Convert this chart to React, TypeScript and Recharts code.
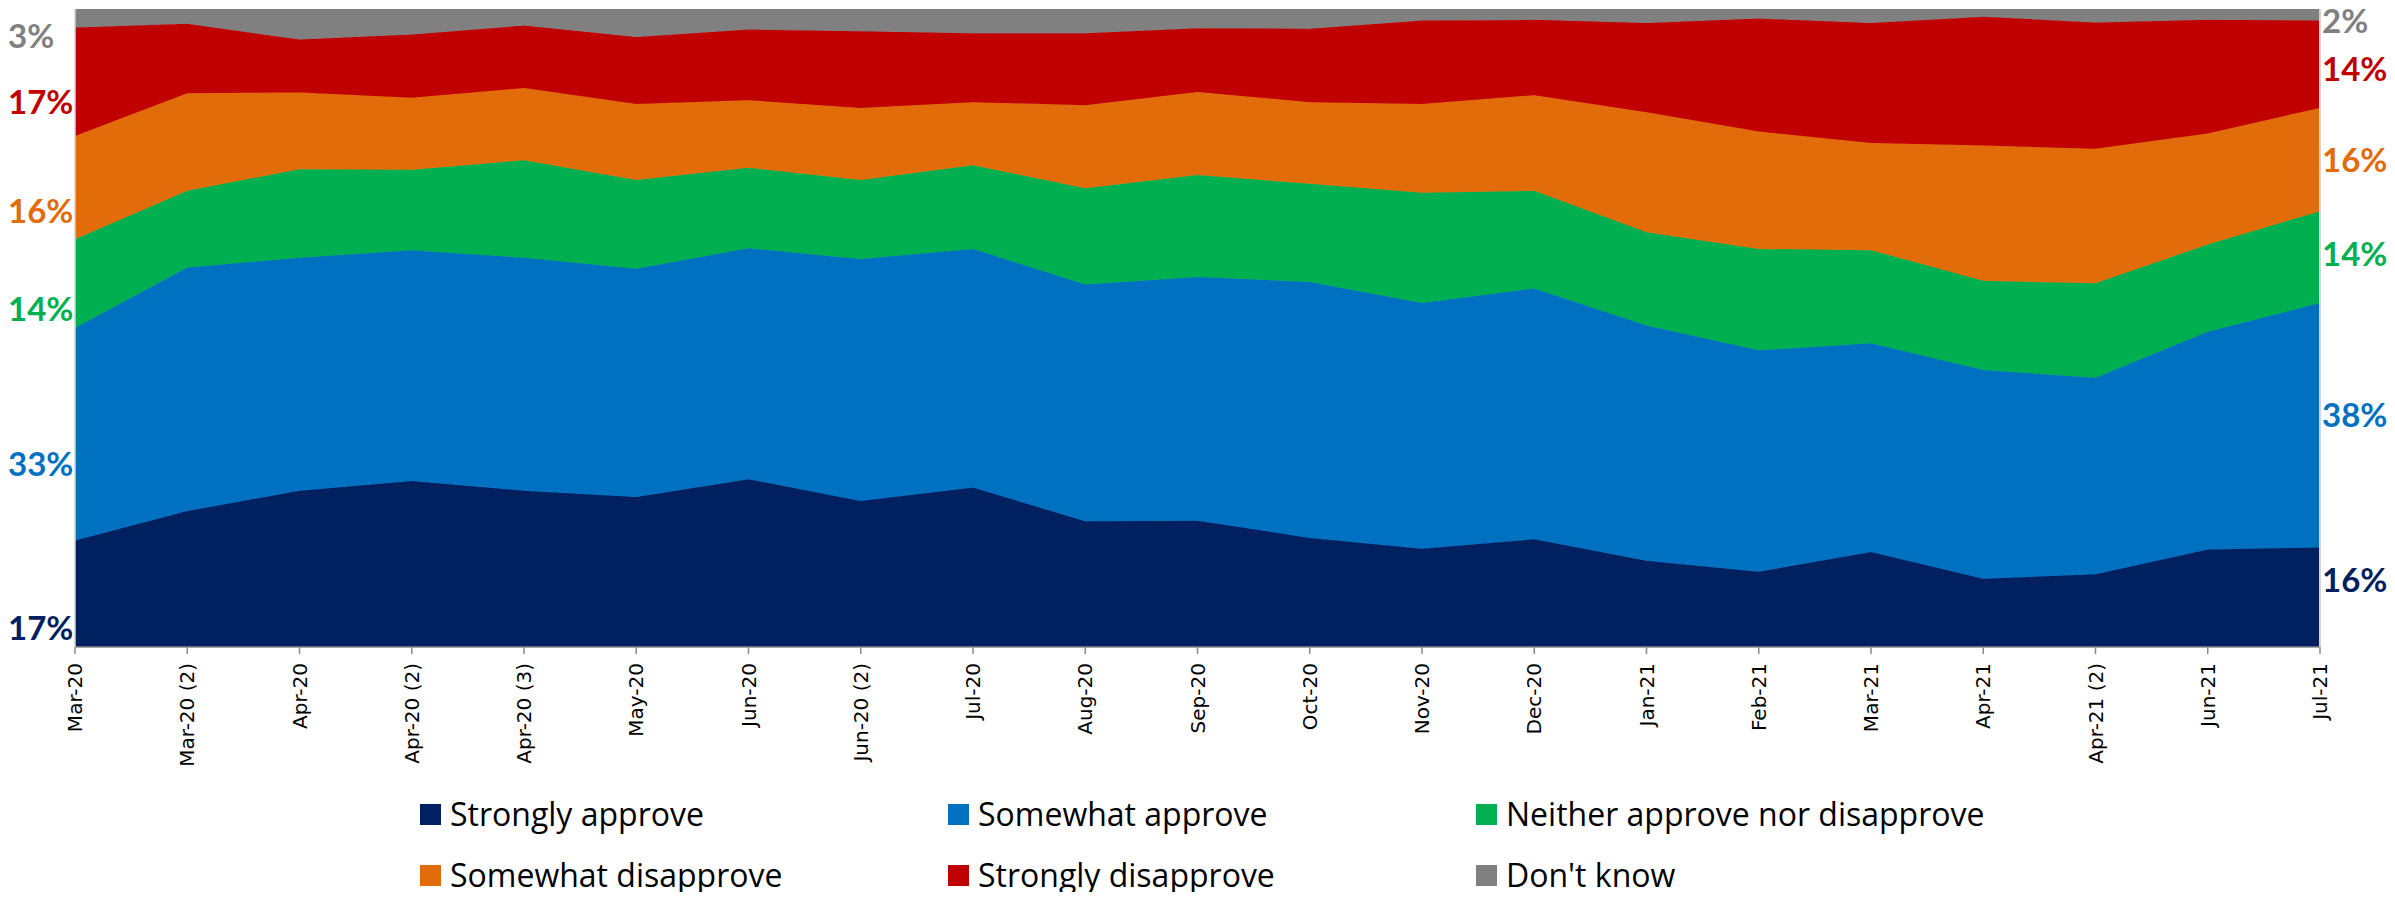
import React from "react";
import { AreaChart, Area, XAxis, YAxis, Legend } from "recharts";

const categories = [
  "Mar-20", "Mar-20 (2)", "Apr-20", "Apr-20 (2)", "Apr-20 (3)", "May-20", "Jun-20",
  "Jun-20 (2)", "Jul-20", "Aug-20", "Sep-20", "Oct-20", "Nov-20", "Dec-20",
  "Jan-21", "Feb-21", "Mar-21", "Apr-21", "Apr-21 (2)", "Jun-21", "Jul-21",
];

const stronglyApprove = [16.7, 21.3, 24.5, 26.0, 24.5, 23.5, 26.3, 22.9, 25.0, 19.7, 19.8, 17.1, 15.4, 16.9, 13.5, 11.8, 14.9, 10.7, 11.4, 15.3, 15.6];
const somewhatApprove = [33.3, 38.2, 36.5, 36.2, 36.5, 35.8, 36.2, 37.9, 37.4, 37.1, 38.2, 40.1, 38.5, 39.3, 36.9, 34.7, 32.7, 32.7, 30.8, 34.1, 38.3];
const neither = [13.9, 12.0, 13.9, 12.6, 15.3, 13.9, 12.6, 12.4, 13.1, 15.1, 16.0, 15.4, 17.3, 15.3, 14.6, 15.9, 14.6, 14.0, 14.8, 13.7, 14.4];
const somewhatDisapprove = [16.2, 15.3, 12.0, 11.3, 11.3, 11.9, 10.6, 11.3, 9.9, 13.0, 13.0, 12.8, 13.9, 15.0, 18.8, 18.4, 16.8, 21.2, 21.1, 17.4, 16.2];
const stronglyDisapprove = [17.0, 10.9, 8.3, 9.9, 9.8, 10.5, 11.1, 12.0, 10.8, 11.3, 10.0, 11.5, 13.1, 11.8, 14.0, 17.7, 18.8, 20.2, 19.8, 17.8, 13.7];
const dontKnow = [2.9, 2.3, 4.8, 4.0, 2.6, 4.4, 3.2, 3.5, 3.8, 3.8, 3.0, 3.1, 1.8, 1.7, 2.2, 1.5, 2.2, 1.2, 2.1, 1.7, 1.8];

const seriesDefs = [
  { key: "sa", name: "Strongly approve", color: "#002060", values: stronglyApprove },
  { key: "swa", name: "Somewhat approve", color: "#0070C0", values: somewhatApprove },
  { key: "nei", name: "Neither approve nor disapprove", color: "#00B050", values: neither },
  { key: "swd", name: "Somewhat disapprove", color: "#E26B0A", values: somewhatDisapprove },
  { key: "sd", name: "Strongly disapprove", color: "#C00000", values: stronglyDisapprove },
  { key: "dk", name: "Don't know", color: "#808080", values: dontKnow },
];

const data = categories.map((month, i) => {
  const row: Record<string, string | number> = { month };
  seriesDefs.forEach((s) => (row[s.key] = s.values[i]));
  return row;
});

// middle of each band in a given column, used for the end labels
function bandMids(col: number) {
  let acc = 0;
  return seriesDefs.map((s) => {
    const m = acc + s.values[col] / 2;
    acc += s.values[col];
    return m;
  });
}
const firstCol = 0;
const lastCol = categories.length - 1;
const leftMids = bandMids(firstCol);
const rightMids = bandMids(lastCol);

const W = 2379;
const H = 892;
const labelFont = { fontFamily: "Lato, 'Open Sans', sans-serif", fontWeight: 700, fontSize: 33 };

function EndLabel(props: any) {
  const { x, y, payload, side } = props;
  const mids = side === "left" ? leftMids : rightMids;
  const col = side === "left" ? firstCol : lastCol;
  let i = 0;
  mids.forEach((m, k) => {
    if (Math.abs(m - payload.value) < Math.abs(mids[i] - payload.value)) i = k;
  });
  const s = seriesDefs[i];
  return (
    <text x={side === "left" ? 0 : x} y={y} dy="0.36em" textAnchor="start" fill={s.color} style={labelFont}>
      {Math.round(s.values[col])}%
    </text>
  );
}

function MonthTick({ x, y, payload }: any) {
  return (
    <g transform={`translate(${x},${y})`}>
      <text transform="rotate(-90)" textAnchor="end" dy="0.35em" fill="#000" style={{ fontFamily: "'DejaVu Sans', sans-serif", fontSize: 20 }}>
        {payload.value}
      </text>
    </g>
  );
}

function LegendGrid() {
  return (
    <div
      style={{
        paddingLeft: 412,
        paddingTop: 27,
        display: "grid",
        gridTemplateColumns: "528px 528px 528px",
        rowGap: 21,
      }}
    >
      {seriesDefs.map((s) => (
        <div key={s.key} style={{ display: "flex", alignItems: "center", height: 40 }}>
          <span style={{ width: 21, height: 21, background: s.color, marginRight: 9, flex: "none" }} />
          <span style={{ fontFamily: "'Open Sans', sans-serif", fontSize: 32, lineHeight: "40px", color: "#000", whiteSpace: "nowrap" }}>
            {s.name}
          </span>
        </div>
      ))}
    </div>
  );
}

export default function App() {
  return (
    <div style={{ width: W, height: H, marginTop: -8 }}>
      <AreaChart width={W} height={H} data={data} margin={{ top: 9, right: 0, bottom: 0, left: 0 }}>
        <XAxis
          dataKey="month"
          scale="point"
          padding={{ left: 0, right: 0 }}
          interval={0}
          height={120}
          axisLine={{ stroke: "#8a8a8a", strokeWidth: 1.5 }}
          tickLine={{ stroke: "#8a8a8a", strokeWidth: 1.5 }}
          tickSize={7}
          tickMargin={9}
          tick={<MonthTick />}
        />
        <YAxis yAxisId="main" hide domain={[0, 100]} allowDataOverflow />
        <YAxis
          yAxisId="leftLabels"
          orientation="left"
          type="number"
          width={67}
          domain={[5.43, 102.76]}
          allowDataOverflow
          ticks={leftMids}
          interval={0}
          tickLine={false}
          tickSize={0}
          axisLine={{ stroke: "#d4d4d4", strokeWidth: 1.5 }}
          tick={<EndLabel side="left" />}
        />
        <YAxis
          yAxisId="rightLabels"
          orientation="right"
          type="number"
          width={67}
          domain={[-3.1, 101.15]}
          allowDataOverflow
          ticks={rightMids}
          interval={0}
          tickLine={false}
          tickSize={0}
          tickMargin={2}
          axisLine={{ stroke: "#d4d4d4", strokeWidth: 2 }}
          tick={<EndLabel side="right" />}
        />
        {seriesDefs.map((s) => (
          <Area
            key={s.key}
            yAxisId="main"
            type="linear"
            dataKey={s.key}
            name={s.name}
            stackId="1"
            stroke={s.color}
            strokeWidth={1}
            fill={s.color}
            fillOpacity={1}
            dot={false}
            activeDot={false}
            isAnimationActive={false}
          />
        ))}
        <Legend verticalAlign="bottom" height={125} wrapperStyle={{ left: 0, width: W, bottom: 0 }} content={() => <LegendGrid />} />
      </AreaChart>
    </div>
  );
}
